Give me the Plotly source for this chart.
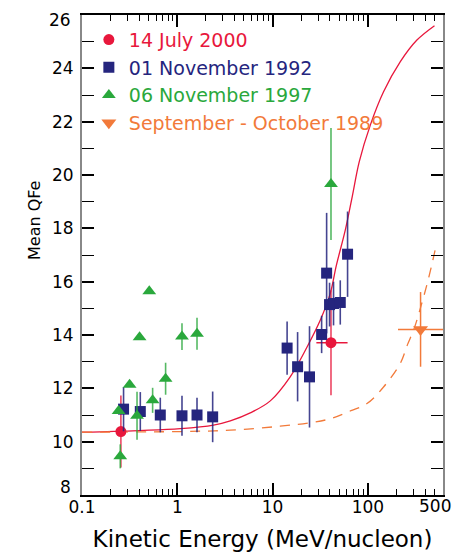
import plotly.graph_objects as go
import math

# ---- data ----
red_x = [0.256, 41.0]
red_y = [10.38, 13.71]
red_err = [1.35, 1.97]
red_xerr_minus = [0, 12.2]
red_xerr_plus = [0, 20.2]

blue_x = [0.273, 0.409, 0.663, 1.12, 1.61, 2.35, 14.2, 18.3, 24.4, 32.7, 36.9, 39.6, 43.6, 51.3, 61.2]
blue_y = [11.22, 11.13, 11.0, 10.97, 11.0, 10.93, 13.51, 12.81, 12.43, 14.02, 16.32, 15.14, 15.18, 15.22, 17.03]
blue_err = [0.83, 0.73, 0.65, 0.75, 0.65, 0.95, 1.0, 1.3, 1.9, 0.7, 2.26, 0.82, 0.82, 0.83, 1.6]

green_x = [0.242, 0.252, 0.316, 0.378, 0.402, 0.508, 0.551, 0.754, 1.12, 1.61, 41.0]
green_y = [11.15, 9.45, 12.13, 10.97, 13.92, 15.64, 11.55, 12.36, 13.94, 14.05, 19.66]
green_err = [0, 0.45, 0, 0.9, 0, 0, 0.47, 0.6, 0.5, 0.6, 2.1]

orange_x = [357]
orange_y = [14.21]
orange_err = [1.4]
orange_xerr_minus = [150]
orange_xerr_plus = [400]

red_fit_x = [0.1, 0.156, 1.08, 2.40, 3.60, 5.83, 9.46, 15.3, 23.0, 31.7, 40.3, 46.6, 57.9, 68.6,
             81.2, 106, 146, 219, 327, 500]
red_fit_y = [10.36, 10.37, 10.49, 10.62, 10.78, 11.08, 11.53, 12.43, 13.55, 14.56, 15.56, 16.6, 17.93, 19.2,
             20.5, 21.87, 23.12, 24.25, 25.06, 25.6]

orange_fit_x = [0.1, 1.08, 3.60, 12.0, 24.9, 40.3, 60.4, 97.9, 146, 219, 259, 307, 363, 420, 475, 515]
orange_fit_y = [10.36, 10.38, 10.43, 10.58, 10.71, 10.86, 11.10, 11.43, 12.05, 12.94, 13.62, 14.26,
                15.12, 15.94, 16.73, 17.29]

x_major = [0.1, 1, 10, 100]
x_major_text = ["0.1", "1", "10", "100"]
x_minor = [m * d for d in (0.1, 1, 10, 100) for m in range(2, 10)]
x_extra_label = 500

y_major = [8, 10, 12, 14, 16, 18, 20, 22, 24, 26]
y_major_text = ["", "10", "12", "14", "16", "18", "20", "22", "24", ""]
y_bottom_label = 8
y_top_label = 26

RED = "#e8173c"
NAVY = "#25257e"
GREEN = "#2aa83c"
ORANGE = "#f27a3a"
FONT = "DejaVu Sans"

fig = go.Figure()

fig.add_trace(go.Scatter(x=red_fit_x, y=red_fit_y, mode="lines", showlegend=False,
                         line=dict(color=RED, width=1.3, shape="spline", smoothing=1.0)))
fig.add_trace(go.Scatter(x=orange_fit_x, y=orange_fit_y, mode="lines", showlegend=False,
                         line=dict(color=ORANGE, width=1.3, dash="10px,8px", shape="spline", smoothing=1.0)))

fig.add_trace(go.Scatter(
    x=red_x, y=red_y, mode="markers", name=f"<span style='color:{RED}'>14 July 2000</span>",
    marker=dict(symbol="circle", size=11, color=RED),
    error_y=dict(type="data", array=red_err, color="rgba(232,23,60,0.85)", thickness=1.5, width=0),
    error_x=dict(type="data", array=red_xerr_plus, arrayminus=red_xerr_minus, color=RED, thickness=1.5, width=0)))
fig.add_trace(go.Scatter(
    x=blue_x, y=blue_y, mode="markers", name=f"<span style='color:{NAVY}'>01 November 1992</span>",
    marker=dict(symbol="square", size=11, color=NAVY),
    error_y=dict(type="data", array=blue_err, color="rgba(37,37,126,0.85)", thickness=1.6, width=0)))
fig.add_trace(go.Scatter(
    x=green_x, y=green_y, mode="markers", name=f"<span style='color:{GREEN}'>06 November 1997</span>",
    marker=dict(symbol="triangle-up", size=12, color=GREEN),
    error_y=dict(type="data", array=green_err, color="rgba(42,168,60,0.8)", thickness=1.6, width=0)))
fig.add_trace(go.Scatter(
    x=orange_x, y=orange_y, mode="markers", name=f"<span style='color:{ORANGE}'>September - October 1989</span>",
    marker=dict(symbol="triangle-down", size=13, color=ORANGE),
    error_y=dict(type="data", array=orange_err, color=ORANGE, thickness=1.5, width=0),
    error_x=dict(type="data", array=orange_xerr_plus, arrayminus=orange_xerr_minus, color=ORANGE, thickness=1.5, width=0)))

fig.update_layout(
    width=462, height=555,
    margin=dict(l=74, r=27, t=7, b=68),
    paper_bgcolor="white", plot_bgcolor="white",
    font=dict(family=FONT, size=16, color="black"),
    legend=dict(x=0.019, y=0.988, xanchor="left", yanchor="top", bgcolor="rgba(0,0,0,0)",
                font=dict(size=19, family=FONT), tracegroupgap=0, itemwidth=30),
    xaxis=dict(type="log", range=[-1, math.log10(614)], automargin=False,
               tickvals=x_major, ticktext=x_major_text,
               ticks="inside", ticklen=12, tickwidth=1.5, tickcolor="black",
               minor=dict(tickvals=x_minor, ticks="inside", ticklen=6, tickwidth=1, tickcolor="black"),
               showline=True, linecolor="black", linewidth=1.5, mirror="allticks",
               showgrid=False, zeroline=False, ticklabelstandoff=-4, ticklabeloverflow="allow",
               tickfont=dict(size=17, family=FONT),
               title=dict(text="Kinetic Energy (MeV/nucleon)", font=dict(size=23, family=FONT), standoff=15)),
    yaxis=dict(range=[8, 26], tickvals=y_major, ticktext=y_major_text, automargin=False,
               ticks="inside", ticklen=12, tickwidth=2, tickcolor="black",
               minor=dict(dtick=1, ticks="inside", ticklen=12, tickwidth=1, tickcolor="black"),
               showline=True, linecolor="#888", linewidth=2, mirror="allticks",
               showgrid=False, zeroline=False, ticklabelstandoff=3, ticklabeloverflow="allow",
               tickfont=dict(size=17, family=FONT)),
)

fig.add_annotation(x=math.log10(x_extra_label), y=0, xref="x", yref="paper", yanchor="top",
                   yshift=1, text="500", showarrow=False, font=dict(size=17, family=FONT))
fig.add_annotation(x=0, y=y_bottom_label, xref="paper", yref="y", xanchor="right", yanchor="middle",
                   xshift=-9, yshift=8, text=str(y_bottom_label), showarrow=False,
                   font=dict(size=17, family=FONT))
fig.add_annotation(x=0, y=y_top_label, xref="paper", yref="y", xanchor="right", yanchor="middle",
                   xshift=-9, yshift=-5, text=str(y_top_label), showarrow=False,
                   font=dict(size=17, family=FONT))
fig.add_annotation(x=-0.13, y=0.571, xref="paper", yref="paper", xanchor="center", yanchor="middle",
                   text="Mean QFe", textangle=-90, showarrow=False, font=dict(size=16, family=FONT))

fig.write_html("out.html")
